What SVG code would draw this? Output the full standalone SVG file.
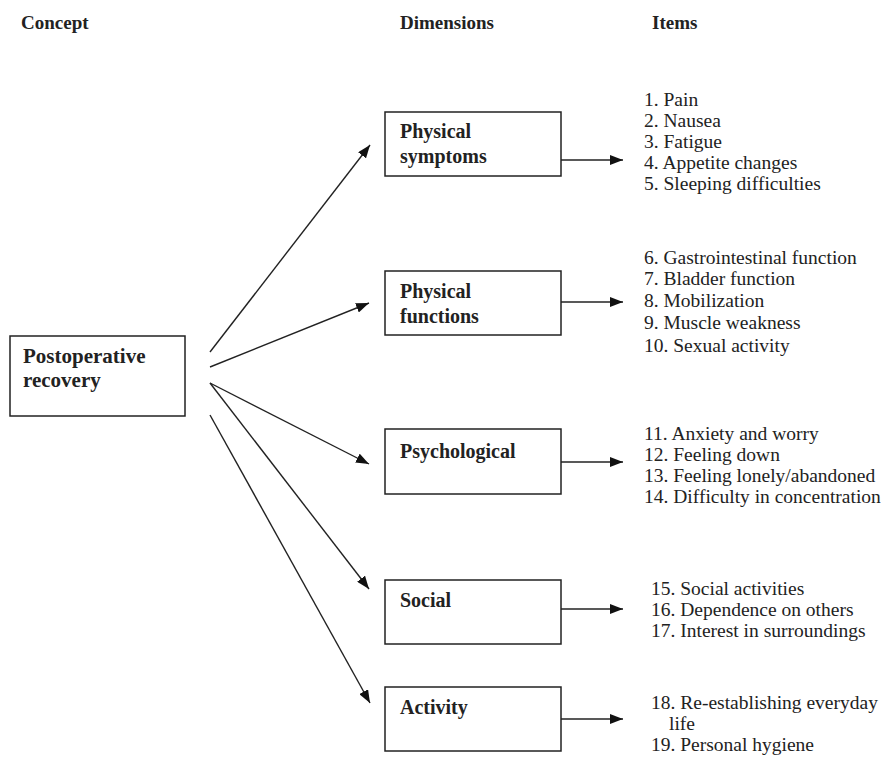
<svg xmlns="http://www.w3.org/2000/svg" width="882" height="758" viewBox="0 0 882 758">
<defs>
<style>
.box{fill:#fff;stroke:#222;stroke-width:1.5}
.hdr{font-family:"Liberation Serif","Times New Roman",serif;font-weight:bold;font-size:19px;fill:#222}
.lbl{font-family:"Liberation Serif","Times New Roman",serif;font-weight:bold;font-size:20px;fill:#222}
.item{font-family:"Liberation Serif","Times New Roman",serif;font-size:19.5px;fill:#222}
.conn line{stroke:#222;stroke-width:1.4;marker-end:url(#ah)}
</style>
<marker id="ah" viewBox="0 0 13 10" refX="13" refY="5" markerWidth="13" markerHeight="10" markerUnits="userSpaceOnUse" orient="auto">
<path d="M0,0 L13,5 L0,10 z" fill="#111"/>
</marker>
</defs>
<rect width="882" height="758" fill="#fff"/>
<g id="headers">
<text class="hdr" x="21" y="29">Concept</text>
<text class="hdr" x="400" y="29">Dimensions</text>
<text class="hdr" x="652" y="29">Items</text>
</g>
<g id="concept">
<rect class="box" x="10" y="336" width="175" height="80"/>
<text class="lbl" x="23" y="363" style="font-size:21px">Postoperative</text>
<text class="lbl" x="23" y="387" style="font-size:21px">recovery</text>
</g>
<g id="physical-symptoms">
<rect class="box" x="385" y="112" width="176" height="64"/>
<text class="lbl" x="400" y="138">Physical</text>
<text class="lbl" x="400" y="163">symptoms</text>
</g>
<g id="physical-functions">
<rect class="box" x="385" y="271" width="176" height="64"/>
<text class="lbl" x="400" y="298">Physical</text>
<text class="lbl" x="400" y="323">functions</text>
</g>
<g id="psychological">
<rect class="box" x="385" y="429" width="176" height="65"/>
<text class="lbl" x="400" y="458">Psychological</text>
</g>
<g id="social">
<rect class="box" x="385" y="580" width="176" height="64"/>
<text class="lbl" x="400" y="607">Social</text>
</g>
<g id="activity">
<rect class="box" x="385" y="687" width="176" height="64"/>
<text class="lbl" x="400" y="714">Activity</text>
</g>
<g id="items-physical-symptoms">
<text class="item" x="644" y="106">1. Pain</text>
<text class="item" x="644" y="127">2. Nausea</text>
<text class="item" x="644" y="148">3. Fatigue</text>
<text class="item" x="644" y="169">4. Appetite changes</text>
<text class="item" x="644" y="190">5. Sleeping difficulties</text>
</g>
<g id="items-physical-functions">
<text class="item" x="644" y="264">6. Gastrointestinal function</text>
<text class="item" x="644" y="285">7. Bladder function</text>
<text class="item" x="644" y="307">8. Mobilization</text>
<text class="item" x="644" y="329">9. Muscle weakness</text>
<text class="item" x="644" y="352">10. Sexual activity</text>
</g>
<g id="items-psychological">
<text class="item" x="644" y="440">11. Anxiety and worry</text>
<text class="item" x="644" y="461">12. Feeling down</text>
<text class="item" x="644" y="482">13. Feeling lonely/abandoned</text>
<text class="item" x="644" y="503">14. Difficulty in concentration</text>
</g>
<g id="items-social">
<text class="item" x="651" y="595">15. Social activities</text>
<text class="item" x="651" y="616">16. Dependence on others</text>
<text class="item" x="651" y="637">17. Interest in surroundings</text>
</g>
<g id="items-activity">
<text class="item" x="651" y="709">18. Re-establishing everyday</text>
<text class="item" x="669" y="730">life</text>
<text class="item" x="651" y="751">19. Personal hygiene</text>
</g>
<g id="connectors" class="conn">
<line x1="210" y1="352" x2="370" y2="145"/>
<line x1="210" y1="367" x2="369" y2="303"/>
<line x1="210" y1="383" x2="369" y2="464"/>
<line x1="210" y1="383" x2="369" y2="589"/>
<line x1="210" y1="415" x2="370" y2="703"/>
<line x1="561" y1="160" x2="623" y2="160"/>
<line x1="561" y1="302" x2="623" y2="302"/>
<line x1="561" y1="462" x2="623" y2="462"/>
<line x1="561" y1="609" x2="623" y2="609"/>
<line x1="561" y1="719" x2="623" y2="719"/>
</g>
</svg>
